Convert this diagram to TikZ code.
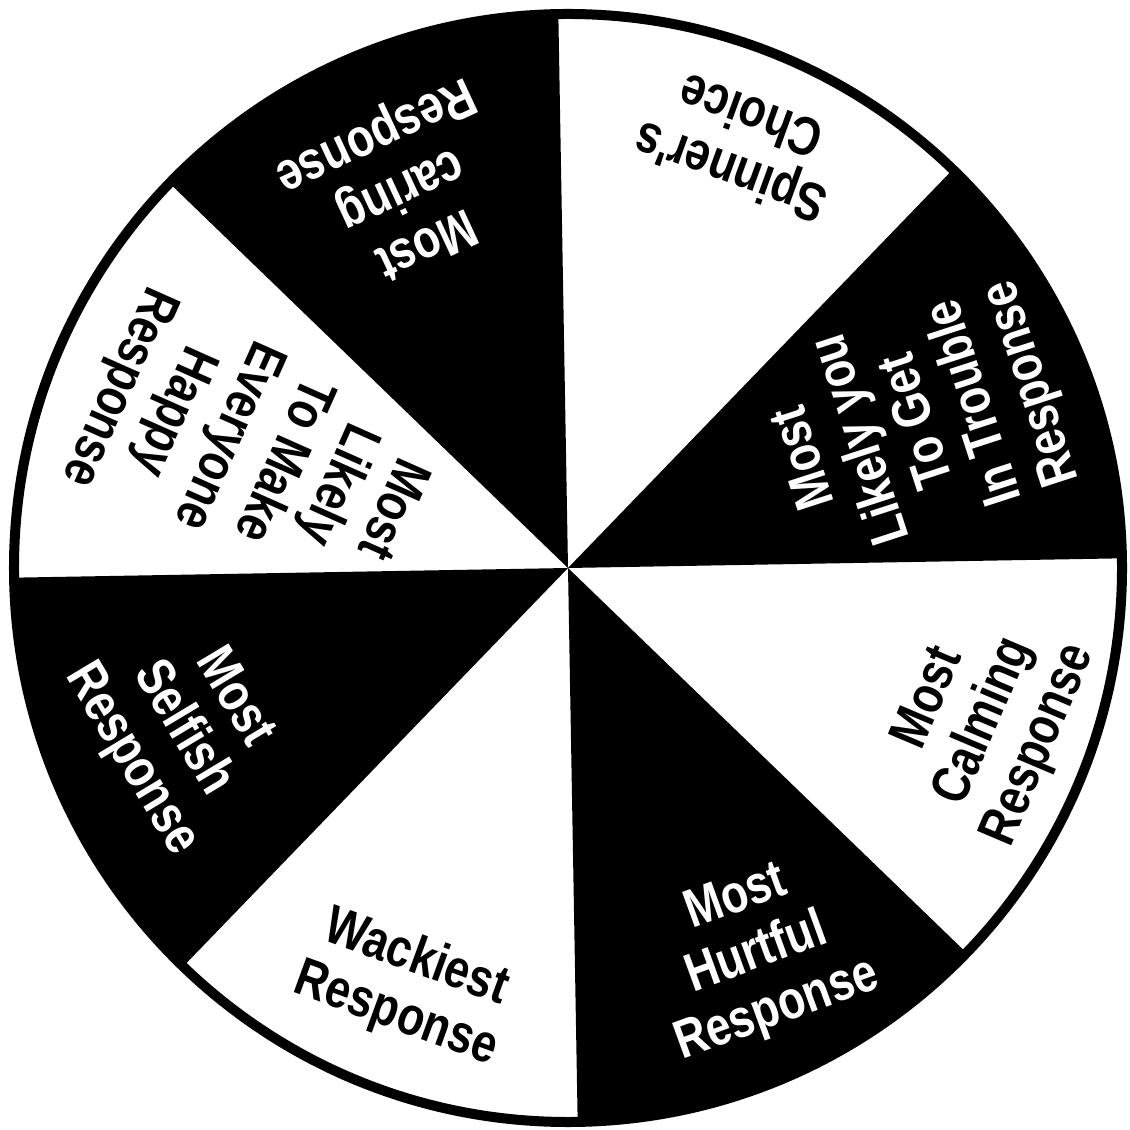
\documentclass[tikz,border=0pt]{standalone}
\usepackage{fontspec}
\newfontfamily\wheelfont[FakeStretch=0.82]{Liberation Sans}
\begin{document}
\begin{tikzpicture}[
  wheeltext/.style={font={\wheelfont\bfseries\fontsize{15.4}{17}\selectfont}, align=center, inner sep=0pt},
  onblack/.style={wheeltext, text=white},
  onwhite/.style={wheeltext, text=black}]

\useasboundingbox (-5.68,-5.62) rectangle (5.61,5.68);

% Black sectors
\foreach \a in {1,91,181,271}
  \fill (0,0) -- (\a:5.54) arc[start angle=\a, end angle=\a+45, radius=5.54] -- cycle;

% Rim
\draw[line width=0.1cm] (0,0) circle (5.54);

% Labels
\node[onblack, rotate=108] (trouble) at (3.52,1.48) {Most\\Likely you\\To Get\\In Trouble\\Response};
\node[onwhite, rotate=160] (spinner) at (1.72,4.23) {Spinner's\\Choice};
\node[onblack, rotate=205] (caring) at (-1.68,3.80) {Most\\caring\\Response};
\node[onwhite, rotate=-114] (happy) at (-3.14,1.21) {Most\\Likely\\To Make\\Everyone\\Happy\\Response};
\node[onblack, rotate=-59] (selfish) at (-3.86,-1.61) {Most\\Selfish\\Response};
\node[onwhite, rotate=-20] (wackiest) at (-1.62,-4.19) {Wackiest\\Response};
\node[onblack, rotate=20] (hurtful) at (1.89,-3.87) {Most\\Hurtful\\Response};
\node[onwhite, rotate=67] (calming) at (4.17,-1.54) {Most\\Calming\\Response};

\end{tikzpicture}
\end{document}
